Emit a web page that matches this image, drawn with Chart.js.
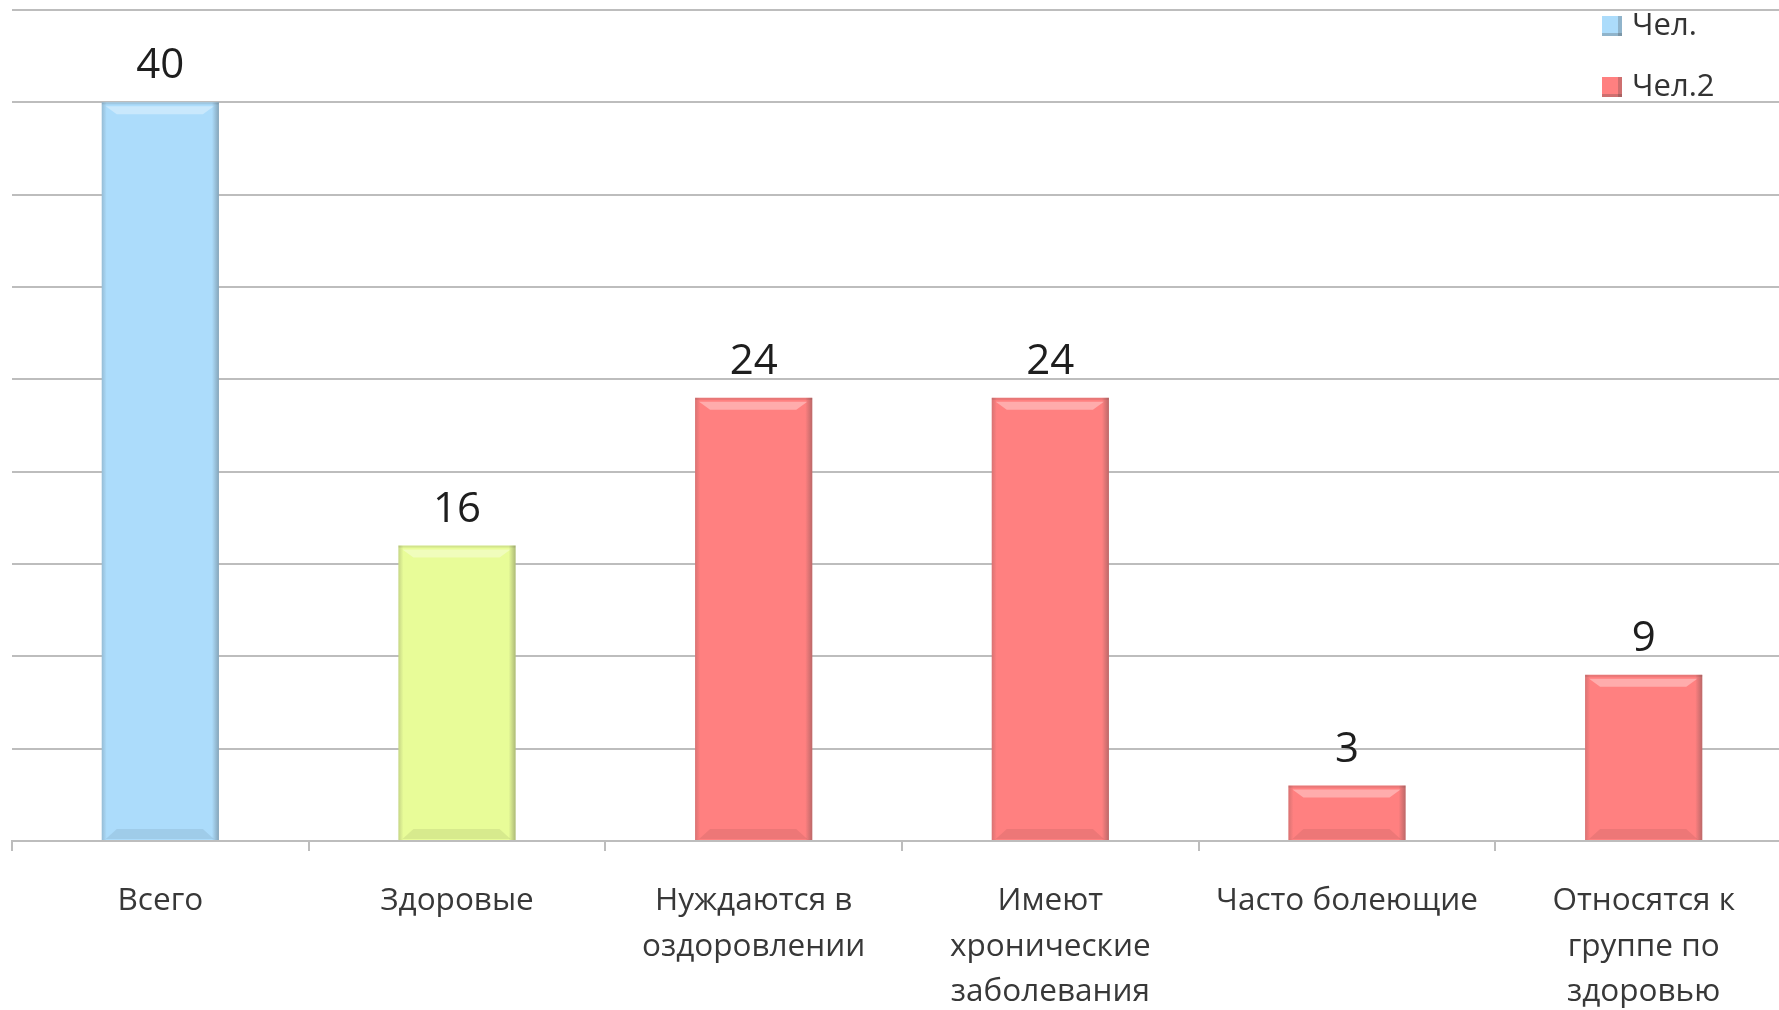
<!DOCTYPE html>
<html lang="ru">
<head>
<meta charset="utf-8">
<title>Здоровье детей</title>
<script src="https://cdn.jsdelivr.net/npm/chart.js@4.4.1/dist/chart.umd.min.js"></script>
<style>
  html, body { margin: 0; padding: 0; background: #fff; overflow: hidden; }
  .wrap { position: relative; width: 1792px; height: 1010px; }
</style>
</head>
<body>
<div class="wrap"><canvas id="myChart"></canvas></div>
<script>
// categories (multi-line labels as in the original)
const categories = [
  ["Всего"],
  ["Здоровые"],
  ["Нуждаются в", "оздоровлении"],
  ["Имеют", "хронические", "заболевания"],
  ["Часто болеющие"],
  ["Относятся к", "группе по", "здоровью"],
];
const seriesNames = ["Чел.", "Чел.2"];
const chel = [40, 16, null, null, null, null];
const chel2 = [null, null, 24, 24, 3, 9];
const yTicks = [0, 5, 10, 15, 20, 25, 30, 35, 40, 45];

// styles
const chelFill = ["#acdcfb", "#e8fc98", "#acdcfb", "#acdcfb", "#acdcfb", "#acdcfb"];
const redFill = "#ff8080";
const gridGray = "#bdbdbd";
const FONT = "'Open Sans', 'Noto Sans', sans-serif";

// soft 3D bevel over each bar
const bevel = {
  id: "bevel",
  afterDatasetsDraw(chart) {
    const ctx = chart.ctx;
    chart.data.datasets.forEach((ds, i) => {
      chart.getDatasetMeta(i).data.forEach((el, j) => {
        if (ds.data[j] == null) return;
        const p = el.getProps(["x", "y", "base", "width"], true);
        const l = p.x - p.width / 2, r = p.x + p.width / 2;
        const t = p.y, b = p.base;
        ctx.save();
        // top highlight
        ctx.fillStyle = "rgba(255,255,255,0.35)";
        ctx.beginPath();
        ctx.moveTo(l + 4, t + 4);
        ctx.lineTo(r - 5, t + 4);
        ctx.lineTo(r - 16, t + 12);
        ctx.lineTo(l + 15, t + 12);
        ctx.closePath();
        ctx.fill();
        // bottom shade
        ctx.fillStyle = "rgba(0,0,0,0.07)";
        ctx.beginPath();
        ctx.moveTo(l + 4, b - 1);
        ctx.lineTo(r - 5, b - 1);
        ctx.lineTo(r - 16, b - 11);
        ctx.lineTo(l + 15, b - 11);
        ctx.closePath();
        ctx.fill();
        // right edge shade
        let g = ctx.createLinearGradient(r - 7, 0, r, 0);
        g.addColorStop(0, "rgba(60,60,60,0)");
        g.addColorStop(1, "rgba(60,60,60,0.35)");
        ctx.fillStyle = g;
        ctx.fillRect(r - 7, t, 7, b - t);
        // left edge shade
        g = ctx.createLinearGradient(l, 0, l + 5, 0);
        g.addColorStop(0, "rgba(60,60,60,0.2)");
        g.addColorStop(1, "rgba(60,60,60,0)");
        ctx.fillStyle = g;
        ctx.fillRect(l, t, 5, b - t);
        // top edge
        ctx.fillStyle = "rgba(60,60,60,0.12)";
        ctx.fillRect(l, t, r - l, 2);
        ctx.restore();
      });
    });
  },
};

// value labels above bars
const valueLabels = {
  id: "valueLabels",
  afterDatasetsDraw(chart) {
    const ctx = chart.ctx;
    ctx.save();
    ctx.font = "42px " + FONT;
    ctx.fillStyle = "#1e1e1e";
    ctx.textAlign = "center";
    ctx.textBaseline = "middle";
    chart.data.datasets.forEach((ds, i) => {
      chart.getDatasetMeta(i).data.forEach((el, j) => {
        if (ds.data[j] == null) return;
        ctx.fillText(String(ds.data[j]), el.x, el.y - 36);
      });
    });
    ctx.restore();
  },
};

// legend in the top right corner, drawn over the plot
const cornerLegend = {
  id: "cornerLegend",
  afterDraw(chart) {
    const ctx = chart.ctx;
    const swatches = [chelFill[0], redFill];
    ctx.save();
    ctx.font = "31px " + FONT;
    ctx.textBaseline = "middle";
    ctx.textAlign = "left";
    seriesNames.forEach((name, i) => {
      const y = 26 + i * 61;
      ctx.fillStyle = swatches[i];
      ctx.fillRect(1602, y - 10, 20, 20);
      ctx.fillStyle = "rgba(60,60,60,0.25)";
      ctx.fillRect(1618, y - 10, 4, 20);
      ctx.fillRect(1602, y + 7, 20, 3);
      ctx.fillStyle = "#333";
      ctx.fillText(name, 1632, y);
    });
    ctx.restore();
  },
};

const data = {
  labels: categories,
  datasets: [
    {
      label: seriesNames[0],
      data: chel,
      backgroundColor: chelFill,
      borderWidth: 0,
    },
    {
      label: seriesNames[1],
      data: chel2,
      backgroundColor: redFill,
      borderWidth: 0,
    },
  ],
};

const config = {
  type: "bar",
  data: data,
  options: {
    maintainAspectRatio: false,
    responsive: true,
    animation: false,
    grouped: false,
    categoryPercentage: 1,
    barPercentage: 0.395,
    layout: { padding: { left: 12, top: 10, right: 0, bottom: 0 } },
    plugins: {
      legend: { display: false },
      tooltip: { enabled: false },
    },
    scales: {
      x: {
        offset: true,
        grid: {
          offset: true,
          drawOnChartArea: false,
          drawTicks: true,
          tickLength: 10,
          color: gridGray,
          lineWidth: 2,
        },
        border: { display: true, color: gridGray, width: 2 },
        ticks: {
          color: "#383838",
          padding: 28,
          maxRotation: 0,
          autoSkip: false,
          font: { family: FONT, size: 31.5, lineHeight: 1.43 },
        },
        afterFit(axis) {
          axis.height = 169;
        },
      },
      y: {
        min: yTicks[0],
        max: yTicks[yTicks.length - 1],
        ticks: { display: false, stepSize: yTicks[1] - yTicks[0] },
        grid: { color: gridGray, lineWidth: 2, drawTicks: false },
        border: { display: false },
        afterFit(axis) {
          axis.width = 0;
        },
      },
    },
  },
  plugins: [bevel, valueLabels, cornerLegend],
};
const myChart = new Chart(document.getElementById("myChart"), config);
</script>
</body>
</html>
